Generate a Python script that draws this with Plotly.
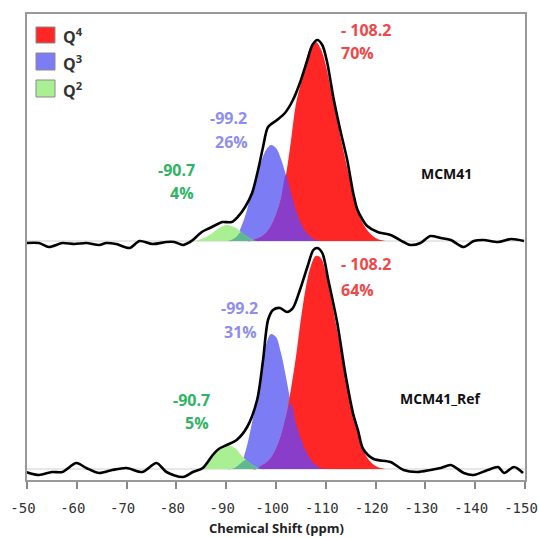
import numpy as np
import plotly.graph_objects as go

# ---------------- data ----------------
# common ppm grid for the deconvoluted components
PPM = [-84, -85, -86, -87, -88, -89, -90, -91, -92, -93,
       -94, -95, -96, -97, -98, -99, -100, -101, -102, -103,
       -104, -105, -106, -107, -108, -109, -110, -111, -112, -113,
       -114, -115, -116, -117, -118, -119, -120, -121, -122, -123]

# MCM41 (upper spectrum)
Q2_TOP = [0, 2, 4, 7, 11, 14, 16, 15, 13, 9,
          5, 2, 0, 0, 0, 0, 0, 0, 0, 0,
          0, 0, 0, 0, 0, 0, 0, 0, 0, 0,
          0, 0, 0, 0, 0, 0, 0, 0, 0, 0]
Q3_TOP = [0, 0, 0, 0, 0, 0, 0, 1, 4, 14,
          28, 47, 62, 79, 91, 96, 93, 82, 66, 48,
          31, 18, 9, 4, 1, 0, 0, 0, 0, 0,
          0, 0, 0, 0, 0, 0, 0, 0, 0, 0]
Q4_TOP = [0, 0, 0, 0, 0, 0, 0, 0, 0, 0,
          0, 0, 2, 4, 8, 15, 26, 42, 66, 100,
          137, 158, 180, 194, 199, 192, 176, 152, 128, 103,
          80, 58, 36, 22, 13, 7, 3, 1, 0, 0]

# MCM41_Ref (lower spectrum)
Q2_BOT = [0, 1, 5, 11, 17, 22, 24, 23, 20, 14,
          9, 5, 2, 0, 0, 0, 0, 0, 0, 0,
          0, 0, 0, 0, 0, 0, 0, 0, 0, 0,
          0, 0, 0, 0, 0, 0, 0, 0, 0, 0]
Q3_BOT = [0, 0, 0, 0, 0, 0, 0, 0, 2, 6,
          20, 42, 66, 96, 124, 135, 132, 116, 92, 66,
          46, 30, 18, 9, 4, 1, 0, 0, 0, 0,
          0, 0, 0, 0, 0, 0, 0, 0, 0, 0]
Q4_BOT = [0, 0, 0, 0, 0, 0, 0, 0, 0, 0,
          0, 0, 0, 3, 6, 11, 20, 33, 52, 80,
          112, 150, 182, 203, 213, 211, 197, 173, 146, 120,
          94, 68, 46, 28, 14, 7, 3, 1, 0, 0]

# experimental spectra
SPEC_X_TOP = [-49.8, -52.4, -54.4, -57.1, -59.5, -61.9, -64.5, -65.9, -67.9, -70.6,
              -72.6, -75.2, -78.0, -79.6, -81.3, -82.7, -83.3, -85.1, -86.7, -88.7,
              -89.3, -91.1, -92.3, -93.8, -95.2, -96.4, -97.4, -98.4, -100.2, -101.8,
              -103.4, -104.8, -106.3, -107.3, -108.3, -109.3, -110.3, -111.5, -112.9, -114.3,
              -115.5, -116.3, -117.3, -118.3, -120.4, -123.0, -125.6, -127.0, -129.0, -131.0,
              -133.1, -135.1, -137.7, -139.7, -141.7, -144.6, -147.2, -149.8]
SPEC_Y_TOP = [-2, -2, -6, -2, -3, -2, -4, -2, -3, -7,
              0, -3, -1, -1, -4, -1, 1, 9, 13, 18,
              19, 19, 24, 34, 48, 71, 94, 114, 121, 128,
              141, 158, 181, 196, 201, 196, 178, 144, 111, 81,
              48, 32, 22, 15, 9, 6, -1, -4, -2, 5,
              3, 1, -6, 0, 1, -1, 2, 0]

SPEC_X_BOT = [-49.8, -52.4, -55.0, -57.1, -59.9, -61.9, -64.5, -67.1, -70.0, -73.2,
              -76.0, -78.0, -81.3, -83.3, -85.3, -87.3, -88.5, -90.1, -92.1, -94.2,
              -96.2, -97.4, -98.4, -99.4, -100.8, -102.2, -103.4, -104.8, -106.3, -107.5,
              -108.3, -109.3, -110.5, -112.3, -113.9, -115.5, -116.5, -117.5, -119.6, -123.0,
              -125.6, -128.4, -131.0, -133.1, -135.1, -137.7, -139.7, -142.5, -144.6, -145.8,
              -147.8, -149.6]
SPEC_Y_BOT = [-3, -6, -3, -3, 6, 1, -4, -1, 1, -3,
              6, -3, -8, -3, 1, 14, 20, 24, 29, 42,
              69, 109, 149, 159, 161, 157, 161, 179, 202, 219,
              221, 216, 189, 146, 96, 55, 38, 20, 10, 7,
              -1, -3, -1, 1, 4, -4, -6, -1, 2, -4,
              2, -4]

X_TICKS = [-50, -60, -70, -80, -90, -100, -110, -120, -130, -140, -150]
LEGEND_LABELS = ["Q<sup>4</sup>", "Q<sup>3</sup>", "Q<sup>2</sup>"]
PEAK_POS = ["- 108.2", "-99.2", "-90.7"]
PCT_TOP = ["70%", "26%", "4%"]
PCT_BOT = ["64%", "31%", "5%"]
SAMPLES = ["MCM41", "MCM41_Ref"]

# ---------------- style ----------------
RED = "#FF2626"
BLUE = "#7C7CF5"
GREEN = "#A8F092"
PURPLE = "#8A3DC8"
TEAL = "#5EB890"
TXT_RED = "#EE4848"
TXT_BLUE = "#8E8EEE"
TXT_GREEN = "#2FB464"
FONT = "Open Sans"

OFF_TOP = 239   # vertical stacking offset of the upper spectrum
OFF_BOT = 11    # vertical stacking offset of the lower spectrum

W, H = 539, 538
L, R, T, B = 27, 14, 14, 58
PW, PH = W - L - R, H - T - B


def pxx(x):
    return (x - L) / PW


def pxy(y):
    return (H - B - y) / PH


fig = go.Figure()

x = np.array(PPM, dtype=float)


def add_fill(vals, off, color):
    vals = np.asarray(vals, dtype=float)
    fig.add_trace(go.Scatter(x=x, y=np.full_like(x, off), mode="lines",
                             line=dict(width=0, color=color), showlegend=False,
                             hoverinfo="skip"))
    fig.add_trace(go.Scatter(x=x, y=vals + off, mode="lines", fill="tonexty",
                             fillcolor=color, line=dict(width=0, color=color, shape="spline"),
                             showlegend=False, hoverinfo="skip"))


for off in (OFF_TOP, OFF_BOT):
    fig.add_trace(go.Scatter(x=[-50, -150], y=[off, off], mode="lines",
                             line=dict(width=1, color="#D0D0D0"), showlegend=False,
                             hoverinfo="skip"))

for q2, q3, q4, off in ((Q2_TOP, Q3_TOP, Q4_TOP, OFF_TOP), (Q2_BOT, Q3_BOT, Q4_BOT, OFF_BOT)):
    add_fill(q3, off, BLUE)
    add_fill(q4, off, RED)
    add_fill(q2, off, GREEN)
    add_fill(np.minimum(q3, q4), off, PURPLE)
    add_fill(np.minimum(q2, q3), off, TEAL)

for sx, sy, off in ((SPEC_X_TOP, SPEC_Y_TOP, OFF_TOP), (SPEC_X_BOT, SPEC_Y_BOT, OFF_BOT)):
    fig.add_trace(go.Scatter(x=sx, y=np.asarray(sy, dtype=float) + off, mode="lines",
                             line=dict(color="black", width=2.6, shape="spline", smoothing=0.8),
                             showlegend=False, hoverinfo="skip"))

shapes = []
annotations = []

# legend
for (y0, y1), col, lab in zip(((27, 43), (53, 70), (80, 97)), (RED, BLUE, GREEN), LEGEND_LABELS):
    shapes.append(dict(type="rect", xref="paper", yref="paper",
                       x0=pxx(36), x1=pxx(55), y0=pxy(y1), y1=pxy(y0),
                       fillcolor=col, line=dict(color="#8A8A8A", width=1)))
    annotations.append(dict(xref="paper", yref="paper", x=pxx(61), y=pxy((y0 + y1) / 2 + 1),
                            xanchor="left", yanchor="middle", text="<b>" + lab + "</b>",
                            showarrow=False, font=dict(family=FONT, size=16, color="#333")))


def label(text, xp, yp, color, anchor, size=16):
    annotations.append(dict(xref="paper", yref="paper", x=pxx(xp), y=pxy(yp),
                            xanchor=anchor, yanchor="middle", text="<b>" + text + "</b>",
                            showarrow=False, font=dict(family=FONT, size=size, color=color)))


# upper peak labels
label(PEAK_POS[0], 339, 30, TXT_RED, "left")
label(PCT_TOP[0], 339, 53, TXT_RED, "left")
label(PEAK_POS[1], 249, 118, TXT_BLUE, "right")
label(PCT_TOP[1], 250, 142, TXT_BLUE, "right")
label(PEAK_POS[2], 197, 170, TXT_GREEN, "right")
label(PCT_TOP[2], 196, 193, TXT_GREEN, "right")
label(SAMPLES[0], 446, 173, "#111", "center", 14)

# lower peak labels
label(PEAK_POS[0], 339, 264, TXT_RED, "left")
label(PCT_BOT[0], 339, 290, TXT_RED, "left")
label(PEAK_POS[1], 260, 308, TXT_BLUE, "right")
label(PCT_BOT[1], 259, 332, TXT_BLUE, "right")
label(PEAK_POS[2], 212, 400, TXT_GREEN, "right")
label(PCT_BOT[2], 211, 423, TXT_GREEN, "right")
label(SAMPLES[1], 441, 398, "#111", "center", 14)

# axis title
annotations.append(dict(xref="paper", yref="paper", x=pxx(276), y=pxy(528),
                        xanchor="center", yanchor="middle",
                        text="<b>Chemical Shift (ppm)</b>", showarrow=False,
                        font=dict(family=FONT, size=13, color="#222")))

fig.update_layout(
    width=W, height=H,
    margin=dict(l=L, r=R, t=T, b=B, autoexpand=False),
    paper_bgcolor="white", plot_bgcolor="white",
    showlegend=False,
    shapes=shapes, annotations=annotations,
    xaxis=dict(range=[-50, -150], tickvals=X_TICKS, ticktext=[str(v) for v in X_TICKS],
               ticks="outside", ticklen=7, tickwidth=1.5, tickcolor="#888",
               ticklabelstandoff=7, ticklabeloverflow="allow", automargin=False,
               ticklabelshift=4,
               showline=True, linecolor="#999", linewidth=1.5, mirror=True,
               showgrid=False, zeroline=False,
               tickfont=dict(family="DejaVu Sans Mono", size=14, color="#333")),
    yaxis=dict(range=[0, PH], showticklabels=False, ticks="", automargin=False,
               showline=True, linecolor="#999", linewidth=1.5, mirror=True,
               showgrid=False, zeroline=False),
)

fig.write_html("out.html")
